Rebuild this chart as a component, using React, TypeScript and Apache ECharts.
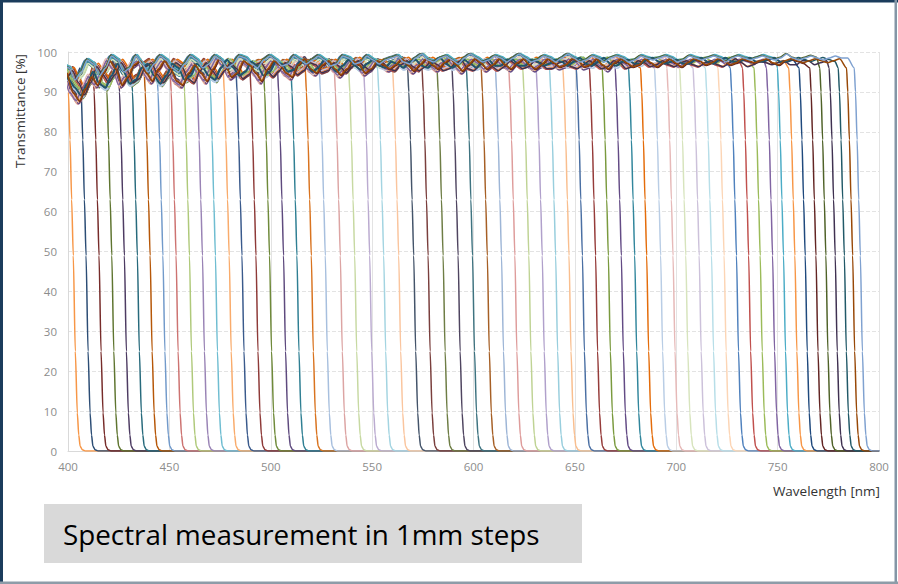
import React, { useEffect, useRef } from "react";
import * as echarts from "echarts";

// ---- axis setup ----
const X_MIN = 400;
const X_MAX = 800;
const X_INTERVAL = 50;
const Y_MIN = 0;
const Y_MAX = 100;
const Y_INTERVAL = 10;

const xAxisTitle = "Wavelength [nm]";
const yAxisTitle = "Transmittance [%]";
const caption = "Spectral measurement in 1mm steps";

// ---- cut-off (50 %) wavelength of each filter step ----
const cutoffs = [
  402.6, 408.9, 415.3, 421.6, 427.8, 434.2, 440.5, 446.8, 453.3, 459.9, 466.3, 472.7,
  479.5, 485.8, 492.7, 499.4, 506.3, 512.9, 520.0, 526.9, 534.3, 541.4, 548.8, 555.7,
  563.1, 570.5, 577.6, 585.0, 592.4, 599.5, 606.8, 613.8, 620.4, 627.3, 633.9, 640.5,
  647.1, 653.7, 660.2, 666.5, 672.9, 679.5, 685.4, 692.3, 698.4, 704.7, 711.3, 717.4,
  723.6, 729.7, 735.7, 741.4, 747.5, 752.9, 758.5, 763.6, 768.9, 773.8, 778.4, 782.9,
  787.0, 790.8,
];

const colors = [
  "#F79646", "#2C4D75", "#772C2A", "#5F7530", "#4D3B62", "#276A7C", "#B65708", "#729ACA",
  "#CD7371", "#AFC97A", "#9983B5", "#6FBDD1", "#F9AB6B", "#3A5A8C", "#8E3A38", "#6F8A3A",
  "#5E4A7E", "#2F7F93", "#D9731F", "#A7BFDE", "#DCA4A3", "#C7D9A2", "#BBABD0", "#A3D4E1",
  "#FAC59E", "#44546A", "#7A3F3D", "#6E7D45", "#4F4560", "#3E7380", "#A65F25", "#9DB5D6",
  "#DE9C9B", "#BFD394", "#B0A0CB", "#98CEDD", "#F9BE8E", "#4A6FA3", "#953B39", "#7A9A3E",
  "#634B85", "#31869C", "#E46C0A", "#B9CDE5", "#E6B9B8", "#D7E4BD", "#CCC1DA", "#B7DEE8",
  "#FCD5B5", "#4F81BD", "#C0504D", "#9BBB59", "#8064A2", "#4BACC6", "#F79646", "#1F497D",
  "#632523", "#4F6228", "#3F3151", "#215968", "#984807", "#7FA1D0",
];

// ---- pass-band ripple (values every 3 nm) ----
const PASS_STEP = 3;
const passStarts = [400, 398.5, 397, 399.2];
const passA = [
  95, 90, 88, 91, 94, 92,
  95, 98, 96, 92, 94, 97, 98, 95, 93, 96, 98, 96, 93, 92, 95, 97, 95, 93,
  96, 98.5, 97, 94, 95, 98, 97, 95, 93, 96, 98, 97, 95, 94, 97, 98.5, 96, 95, 97, 98, 96, 94.5, 96, 98, 97, 95, 96, 98, 97, 96,
  97, 98.5, 97, 95.5, 97, 98.5, 97, 96, 97.5, 98.5, 97, 95.5, 97, 98.5, 97.5, 96, 97, 98.5, 97, 96, 97.5, 98.5, 97, 96, 97, 98.5, 97.5, 96.5, 97, 98.5, 98, 96.5, 97, 98.5, 97, 96, 97.5, 98.5, 97.5, 96.5, 97, 98.5, 97.5, 96.5, 97.5, 98.5,
  97.5, 96.5, 97.5, 98.5, 98, 97, 97.5, 98.5, 98, 97, 97.5, 98.5, 98, 97.5, 98, 98.5, 97.5, 97, 98, 98.5, 98, 97.5, 98, 98.5, 98, 97.5, 98, 98.5, 98.5, 98, 98, 98, 98,
];
const passB = [
  97, 96, 93, 95, 98, 97,
  94, 96, 99, 98, 95, 96, 99, 97, 95, 97, 99, 98, 96, 95, 97, 99, 98, 96,
  97, 99, 98, 96, 97, 99, 98.5, 97, 96, 98, 99, 98, 96.5, 97, 99, 98, 97, 98, 99, 98, 96.5, 97, 99, 98.5, 97, 97.5, 99, 98, 97, 98,
  98.5, 99, 97.5, 97, 98.5, 99.5, 98, 97.5, 98.5, 99, 98, 97, 98.5, 99.5, 98.5, 97.5, 98, 99, 98.5, 97.5, 98.5, 99.5, 98.5, 97.5, 98, 99, 98.5, 97.5, 98.5, 99.5, 98.5, 97.5, 98, 99, 98.5, 97.5, 98.5, 99, 98.5, 97.5, 98, 99, 98.5, 98, 98.5, 99,
  98.5, 97.5, 98, 99, 98.5, 98, 98.5, 99, 98.5, 97.5, 98.5, 99, 98.5, 98, 98.5, 99, 98.5, 98, 98.5, 99.5, 98.5, 98, 98.5, 99, 98.5, 98, 98.5, 99, 98.5, 98.5, 98.5, 98.5, 98.5,
];
const passC = [
  93, 94, 96, 93, 90, 93,
  97, 95, 93, 95, 98, 96, 93, 94, 97, 98, 95, 93, 95, 98, 97, 94, 93, 96,
  98, 96, 94, 96, 98, 96.5, 94, 95, 97.5, 98, 96, 94.5, 96, 98, 97, 95, 96, 98, 97.5, 95.5, 96, 98, 97, 95.5, 97, 98.5, 97, 96, 97.5, 98,
  96.5, 96, 97.5, 98.5, 97, 96, 97, 98.5, 97.5, 96, 96.5, 98, 98.5, 96.5, 96, 97.5, 98.5, 97, 96, 97, 98.5, 97.5, 96.5, 97, 98.5, 98, 96.5, 96.5, 98, 98.5, 97, 96.5, 97.5, 98.5, 97.5, 96.5, 97, 98.5, 98, 96.5, 97, 98.5, 98, 97, 97.5, 98.5,
  97.5, 97, 98, 98.5, 97.5, 97, 98, 98.5, 97.5, 97, 98, 99, 98, 97, 97.5, 98.5, 98, 97.5, 98, 98.5, 97.5, 97.5, 98.5, 98.5, 97.5, 98, 98.5, 98.5, 98, 98, 98, 98, 98,
];
const passD = [
  96, 93, 91, 89, 92, 95,
  92, 91, 94, 97, 95, 92, 93, 96, 97, 94, 92, 94, 97, 96, 93, 94, 97, 96,
  94, 93, 96, 98, 96, 94, 95, 97.5, 96.5, 94, 95, 97.5, 97, 95, 95.5, 97.5, 97, 95, 96, 98, 96.5, 95, 96.5, 98, 96.5, 95.5, 97, 98, 96.5, 96,
  97.5, 97, 96, 97.5, 98, 96.5, 96, 97.5, 98.5, 97, 96, 97, 98, 97, 96, 97.5, 98, 96.5, 96.5, 98, 98, 96.5, 96.5, 98, 97.5, 96.5, 97, 98, 97.5, 96.5, 97.5, 98.5, 97, 96.5, 97.5, 98.5, 97, 96.5, 97.5, 98, 97, 97, 98, 98.5, 97.5, 97,
  97.5, 98, 97, 97, 98, 98.5, 97.5, 97, 98, 98.5, 97.5, 97.5, 98, 98.5, 97.5, 97.5, 98, 98.5, 97.5, 97.5, 98, 98.5, 98, 97.5, 98, 98.5, 98, 97.5, 98, 98, 98, 98, 98,
];
const passPatterns = [passA, passB, passC, passD];

// per-step level difference of the pass band
const levelShift = [
  0, -0.6, 0.3, -1.0, 0.4, -0.3, -1.2, 0.2, -0.8, 0.1, -0.4, 0.3, -1.0, -0.2, 0.4, -0.7,
  0.2, -1.1, 0, -0.5, 0.3, -0.9, 0.1, -0.3, -0.6, 0.4, -1.0, -0.2, 0.3, -0.7, 0.1, -0.4,
  -1.1, 0.2, -0.5, 0.4, -0.8, 0, -0.3, 0.3, -1.0, -0.1, 0.2, -0.6, 0.4, -0.9, -0.2, 0.3,
  -0.5, 0.1, -0.8, 0.2, -0.3, 0.4, -0.6, 0, -0.4, 0.2, -0.7, 0.1, -0.2, 0,
];
// per-step sideways offset of the ripple (nm)
const rippleOffset = [
  0, 1.2, 0.6, 1.8, 0.3, 1.5, 0.9, 2.1, 0.2, 1.0, 1.7, 0.5, 1.3, 0.1, 2.0, 0.8,
  1.6, 0.4, 1.1, 1.9, 0.7, 0, 1.4, 2.2, 0.5, 1.2, 0.9, 1.8, 0.3, 1.5, 2.0, 0.6,
  1.1, 0.2, 1.7, 0.8, 1.3, 2.1, 0.4, 1.0, 0.7, 1.9, 0.1, 1.4, 2.2, 0.6, 1.2, 0.3,
  1.8, 0.9, 1.5, 0, 2.0, 0.5, 1.1, 1.6, 0.2, 1.3, 0.8, 1.9, 0.4, 1.0,
];

// ---- shape of the falling edge (nm from cut-off, %) ----
const edgeDx = [-3.0, -2.4, -1.6, -0.8, 0, 1.0, 2.0, 2.7, 3.4, 4.5, 6.0];
const edgeT = [96, 90, 78, 63, 49, 25, 9.5, 4, 1.2, 0.3, 0];

export default function App() {
  const ref = useRef<HTMLDivElement>(null);

  useEffect(() => {
    if (!ref.current) return;
    const chart = echarts.init(ref.current, undefined, { renderer: "svg" });

    const series = cutoffs.map((c, i) => {
      const p = i % passPatterns.length;
      const pat = passPatterns[p];
      const start = passStarts[p] - (rippleOffset[i] ?? 0);
      const shift = levelShift[i] ?? 0;
      const pts: [number, number][] = [];
      for (let k = 0; k < pat.length; k++) {
        const x = start + k * PASS_STEP;
        if (x >= c + edgeDx[0] - 0.5) break;
        pts.push([x, Math.min(99.6, pat[k] + shift)]);
      }
      edgeDx.forEach((d, j) => pts.push([c + d, edgeT[j]]));
      pts.push([X_MAX, 0]);
      return {
        type: "line",
        data: pts,
        showSymbol: false,
        symbol: "none",
        silent: true,
        clip: true,
        smooth: 0.25,
        smoothMonotone: "x",
        lineStyle: { width: 1.5, color: colors[i % colors.length] },
        itemStyle: { color: colors[i % colors.length] },
      };
    });

    chart.setOption({
      animation: false,
      backgroundColor: "#ffffff",
      grid: { left: 68, right: 19, top: 52, bottom: 133 },
      xAxis: {
        type: "value",
        min: X_MIN,
        max: X_MAX,
        interval: X_INTERVAL,
        axisLine: { show: true, lineStyle: { color: "#D9D9D9", width: 1 } },
        axisTick: { show: false },
        axisLabel: {
          color: "#8C8C8C",
          fontSize: 11.5,
          fontFamily: "Open Sans",
          margin: 9,
        },
        splitLine: { show: true, lineStyle: { color: "#E3E3E3", width: 1 } },
      },
      yAxis: {
        type: "value",
        min: Y_MIN,
        max: Y_MAX,
        interval: Y_INTERVAL,
        axisLine: { show: true, lineStyle: { color: "#D9D9D9", width: 1 } },
        axisTick: { show: false },
        axisLabel: {
          color: "#8C8C8C",
          fontSize: 11.5,
          fontFamily: "Open Sans",
          margin: 11,
        },
        splitLine: {
          show: true,
          lineStyle: { color: "#E3E3E3", width: 1, type: [4, 2] },
        },
      },
      graphic: [
        { type: "rect", shape: { x: 0, y: 0, width: 898, height: 2.5 }, style: { fill: "#1B3C5C" }, silent: true },
        { type: "rect", shape: { x: 0, y: 0, width: 3, height: 584 }, style: { fill: "#1B3C5C" }, silent: true },
        { type: "rect", shape: { x: 894.5, y: 0, width: 2.5, height: 584 }, style: { fill: "#8496A6" }, silent: true },
        { type: "rect", shape: { x: 0, y: 581.5, width: 898, height: 2.5 }, style: { fill: "#8E9CA8" }, silent: true },
        {
          type: "text",
          x: 20,
          y: 111,
          rotation: Math.PI / 2,
          silent: true,
          style: {
            text: yAxisTitle,
            fill: "#333333",
            font: '13.5px "Open Sans"',
            align: "center",
            verticalAlign: "middle",
          },
        },
        {
          type: "text",
          x: 880,
          y: 491,
          silent: true,
          style: {
            text: xAxisTitle,
            fill: "#333333",
            font: '13.5px "Open Sans"',
            align: "right",
            verticalAlign: "middle",
          },
        },
        { type: "rect", shape: { x: 44, y: 504, width: 538, height: 59 }, style: { fill: "#D9D9D9" }, silent: true },
        {
          type: "text",
          x: 63,
          y: 534,
          silent: true,
          style: {
            text: caption,
            fill: "#000000",
            font: '27.8px "Open Sans"',
            align: "left",
            verticalAlign: "middle",
          },
        },
      ],
      series,
    });

    return () => chart.dispose();
  }, []);

  return (
    <div
      ref={ref}
      style={{ position: "absolute", left: 0, top: 0, width: 898, height: 584, background: "#fff" }}
    />
  );
}
